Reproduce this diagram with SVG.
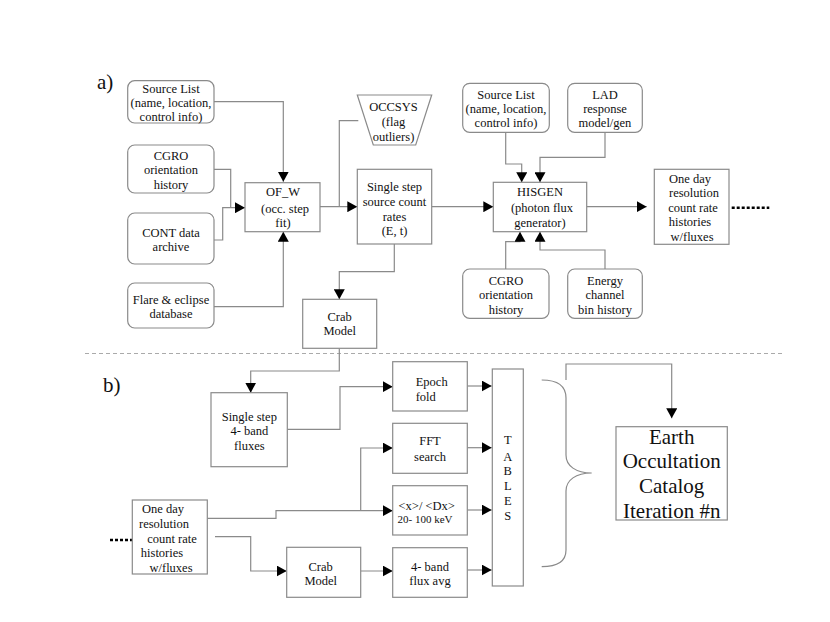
<svg xmlns="http://www.w3.org/2000/svg" width="830" height="622" viewBox="0 0 830 622">
<defs>
<marker id="ah" markerWidth="11" markerHeight="11" refX="10" refY="5.5" orient="auto" markerUnits="userSpaceOnUse"><path d="M0,0 L10,5.5 L0,11 z" fill="#000"/></marker>
<style>
.bx{fill:#fff;stroke:#8a8a8a;stroke-width:1.2}
.ln{fill:none;stroke:#8a8a8a;stroke-width:1.2}
.ar{fill:none;stroke:#8a8a8a;stroke-width:1.2;marker-end:url(#ah)}
text{font-family:"Liberation Serif","Times New Roman",serif;font-size:12.5px;fill:#111;text-anchor:middle}
.lbl{font-size:21px;text-anchor:start}
.big{font-size:21px}
.sm{font-size:11px}
.dot{fill:none;stroke:#000;stroke-width:2.5;stroke-dasharray:3,2}
</style>
</defs>
<rect width="830" height="622" fill="#fff"/>
<text class="lbl" x="97" y="89">a)</text>
<text class="lbl" x="103" y="392">b)</text>
<line x1="85" y1="353.5" x2="782" y2="353.5" stroke="#aaa" stroke-width="1" stroke-dasharray="4,3"/>

<g id="connectors">
<path class="ar" d="M214,101.7 H283.3 V181.7"/>
<path class="ln" d="M214,169.3 H230.7 V207.7"/>
<path class="ar" d="M214,240 H222.7 V207.7 H245"/>
<path class="ar" d="M214,306.7 H283.3 V231.7"/>
<path class="ar" d="M320,206.7 H357.3"/>
<path class="ln" d="M358.3,120.7 H339.3 V206.7"/>
<path class="ar" d="M394.3,244 V271.7 H339.3 V299.3"/>
<path class="ar" d="M431.7,206.7 H493.3"/>
<path class="ar" d="M505.7,132.3 V164 H521.7 V182.3"/>
<path class="ar" d="M605,132.3 V157.3 H540 V182.3"/>
<path class="ar" d="M505.7,269 V241.7 H520 V231.7"/>
<path class="ar" d="M605,269 V250 H540 V231.7"/>
<path class="ar" d="M586.7,206.7 H646.7"/>
<path class="dot" d="M731.7,207.7 H769.3"/>
<path class="ar" d="M339.3,348.3 V371 H250.7 V392.7"/>
<path class="ar" d="M287.3,429.3 H340 V386.7 H392.7"/>
<path class="ar" d="M360.7,510.7 V448 H392.7"/>
<path class="ar" d="M207.3,518.3 H276 V510.7 H392.7"/>
<path class="ar" d="M215,536.7 H250.7 V571 H286.7"/>
<path class="ar" d="M360.7,571 H392.7"/>
<path class="dot" d="M110,540 H136"/>
<path class="ar" d="M467.3,386 H491.7"/>
<path class="ar" d="M467.3,447.7 H491.7"/>
<path class="ar" d="M467.3,510 H491.7"/>
<path class="ar" d="M467.3,570 H491.7"/>
<path class="ln" d="M541.7,380 C556,380 566,385 566,398 L566,455 C566,466 576,473 591.7,473 C576,473 566,480 566,491 L566,550 C566,562 556,566.7 541.7,566.7"/>
<path class="ar" d="M566,380 V364 H671.7 V418.3"/>
</g>

<g id="srclist1"><rect class="bx" x="127.7" y="80.7" width="86.3" height="42.3" rx="7"/>
<text x="171" y="92.5">Source List</text><text x="171" y="107">(name, location,</text><text x="171" y="121">control info)</text></g>
<g id="cgro1"><rect class="bx" x="127.7" y="145" width="86.3" height="48" rx="7"/>
<text x="171" y="159.5">CGRO</text><text x="171" y="174">orientation</text><text x="171" y="188.5">history</text></g>
<g id="cont"><rect class="bx" x="127.7" y="213" width="86.3" height="51" rx="7"/>
<text x="171" y="237">CONT data</text><text x="171" y="251">archive</text></g>
<g id="flare"><rect class="bx" x="127.7" y="283" width="86.3" height="45" rx="7"/>
<text x="171" y="304">Flare &amp; eclipse</text><text x="171" y="318">database</text></g>
<g id="ofw"><rect class="bx" x="245" y="182.7" width="75" height="49"/>
<text x="283" y="196">OF_W</text><text x="285" y="212.5">(occ. step</text><text x="283" y="227">fit)</text></g>
<g id="occsys"><polygon class="bx" points="357.3,95 431.7,95 415.7,145 373.3,145"/>
<text x="393.5" y="110.5">OCCSYS</text><text x="393.5" y="126">(flag</text><text x="393.5" y="141">outliers)</text></g>
<g id="singlestep"><rect class="bx" x="357.3" y="169.3" width="74.4" height="74.7"/>
<text x="394.5" y="191">Single step</text><text x="394.5" y="205.5">source count</text><text x="394.5" y="220.5">rates</text><text x="394.5" y="235">(E, t)</text></g>
<g id="crab1"><rect class="bx" x="302.7" y="299.3" width="74" height="49"/>
<text x="339.7" y="321">Crab</text><text x="339.7" y="335">Model</text></g>
<g id="srclist2"><rect class="bx" x="462.7" y="83.3" width="86.6" height="49" rx="7"/>
<text x="506" y="98.5">Source List</text><text x="506" y="112.5">(name, location,</text><text x="506" y="126.5">control info)</text></g>
<g id="lad"><rect class="bx" x="567.7" y="83.3" width="74.6" height="49" rx="7"/>
<text x="605" y="98.5">LAD</text><text x="605" y="112.5">response</text><text x="605" y="126.5">model/gen</text></g>
<g id="hisgen"><rect class="bx" x="493.3" y="182.3" width="93.4" height="49.4"/>
<text x="540" y="196">HISGEN</text><text x="542" y="212">(photon flux</text><text x="540" y="227">generator)</text></g>
<g id="cgro2"><rect class="bx" x="462.7" y="269" width="86.3" height="49.3" rx="7"/>
<text x="506" y="284.5">CGRO</text><text x="506" y="298.8">orientation</text><text x="506" y="313.8">history</text></g>
<g id="energy"><rect class="bx" x="567.7" y="269" width="74.6" height="49.3" rx="7"/>
<text x="605" y="284.5">Energy</text><text x="605" y="298.8">channel</text><text x="605" y="313.8">bin history</text></g>
<g id="oneday1"><rect class="bx" x="654.3" y="169.3" width="74.7" height="75"/>
<text x="690" y="182.8">One day</text><text x="694" y="197.2">resolution</text><text x="693" y="212.2">count rate</text><text x="690" y="226.2">histories</text><text x="692" y="241.2">w/fluxes</text></g>
<g id="ss4band"><rect class="bx" x="211" y="392.7" width="76.3" height="74"/>
<text x="249.3" y="420.5">Single step</text><text x="249.3" y="435.2">4- band</text><text x="249.3" y="449.5">fluxes</text></g>
<g id="oneday2"><rect class="bx" x="132.3" y="500" width="75" height="74"/>
<text x="163" y="512.8">One day</text><text x="164" y="527.8">resolution</text><text x="172" y="542.8">count rate</text><text x="162" y="557.2">histories</text><text x="171" y="572.2">w/fluxes</text></g>
<g id="crab2"><rect class="bx" x="286.7" y="547.3" width="74" height="50"/>
<text x="320.7" y="570.5">Crab</text><text x="320.7" y="585.2">Model</text></g>
<g id="epoch"><rect class="bx" x="392.7" y="361.7" width="74.6" height="49.3"/>
<text x="431.7" y="386.2">Epoch</text><text x="425.7" y="401.2">fold</text></g>
<g id="fft"><rect class="bx" x="392.7" y="423.3" width="74.6" height="50"/>
<text x="430" y="445.2">FFT</text><text x="430" y="460.5">search</text></g>
<g id="xdx"><rect class="bx" x="392.7" y="485.7" width="74.6" height="49.3"/>
<text x="426.7" y="509.5">&lt;x&gt;/ &lt;Dx&gt;</text><text class="sm" x="425" y="522.5">20- 100 keV</text></g>
<g id="band4"><rect class="bx" x="392.7" y="547.7" width="74.6" height="49.6"/>
<text x="430" y="570.5">4- band</text><text x="430" y="585.2">flux avg</text></g>
<g id="tables"><rect class="bx" x="492.3" y="369" width="31" height="217"/>
<text x="507.7" y="444">T</text><text x="507.7" y="461">A</text><text x="507.7" y="475">B</text><text x="507.7" y="490">L</text><text x="507.7" y="504.5">E</text><text x="507.7" y="519.5">S</text></g>
<g id="earth"><rect class="bx" x="616" y="426.7" width="111.3" height="93.3"/>
<text class="big" x="671.7" y="443.5">Earth</text><text class="big" x="671.7" y="467.5">Occultation</text><text class="big" x="671.7" y="492.5">Catalog</text><text class="big" x="671.7" y="517.5">Iteration #n</text></g>
</svg>
